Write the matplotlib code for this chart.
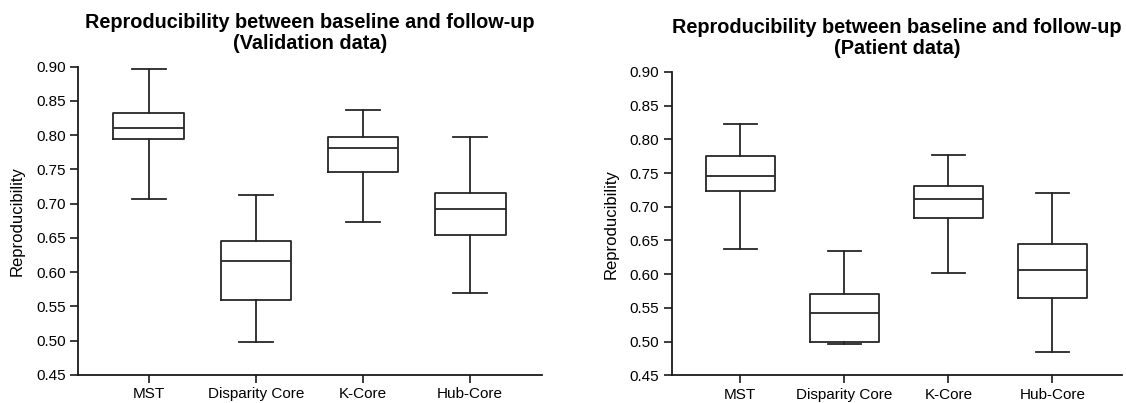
import matplotlib
matplotlib.use("Agg")
import matplotlib.pyplot as plt

plt.rcParams["font.family"] = ["Liberation Sans", "DejaVu Sans"]

categories = ["MST", "Disparity Core", "K-Core", "Hub-Core"]

# Five-number summaries: lower whisker, Q1, median, Q3, upper whisker
validation_low = [0.707, 0.498, 0.674, 0.569]
validation_q1 = [0.795, 0.559, 0.746, 0.655]
validation_med = [0.810, 0.616, 0.781, 0.692]
validation_q3 = [0.833, 0.645, 0.798, 0.716]
validation_high = [0.897, 0.713, 0.837, 0.798]

patient_low = [0.638, 0.497, 0.602, 0.484]
patient_q1 = [0.724, 0.500, 0.683, 0.564]
patient_med = [0.746, 0.543, 0.711, 0.606]
patient_q3 = [0.775, 0.571, 0.731, 0.644]
patient_high = [0.822, 0.634, 0.776, 0.721]

y_ticks = [0.45, 0.50, 0.55, 0.60, 0.65, 0.70, 0.75, 0.80, 0.85, 0.90]

titles = [
    "Reproducibility between baseline and follow-up\n(Validation data)",
    "Reproducibility between baseline and follow-up\n(Patient data)",
]

LINE = "#262626"


def draw_panel(ax, low, q1, med, q3, high, title, title_pad):
    stats = []
    for name, lo, a, m, b, hi in zip(categories, low, q1, med, q3, high):
        stats.append({"label": name, "whislo": lo, "q1": a, "med": m,
                      "q3": b, "whishi": hi, "fliers": []})
    props = dict(color=LINE, linewidth=1.3)
    ax.bxp(stats, positions=range(1, len(stats) + 1), widths=0.66,
           showfliers=False, boxprops=props, whiskerprops=props,
           capprops=props, medianprops=props, capwidths=0.32)
    ax.set_xlim(0.34, 4.67)
    ax.set_ylim(0.45, 0.90)
    ax.set_yticks(y_ticks)
    ax.set_yticklabels([f"{v:.2f}" for v in y_ticks])
    ax.set_ylabel("Reproducibility", fontsize=12, labelpad=8)
    ax.set_title(title, fontsize=14.3, fontweight="bold", pad=title_pad,
                 linespacing=1.1)
    for side in ("top", "right"):
        ax.spines[side].set_visible(False)
    for side in ("left", "bottom"):
        ax.spines[side].set_linewidth(1.3)
        ax.spines[side].set_color("#1a1a1a")
    ax.tick_params(axis="both", direction="out", length=6, width=1.2,
                   color="#1a1a1a", labelsize=11, pad=3)


fig = plt.figure(figsize=(11.26, 4.03), dpi=100)
ax1 = fig.add_axes([0.0693, 0.0695, 0.412, 0.765])
ax2 = fig.add_axes([0.5965, 0.0687, 0.400, 0.753])

draw_panel(ax1, validation_low, validation_q1, validation_med,
           validation_q3, validation_high, titles[0], 13)
draw_panel(ax2, patient_low, patient_q1, patient_med,
           patient_q3, patient_high, titles[1], 13)

fig.savefig("out.png", dpi=100)
